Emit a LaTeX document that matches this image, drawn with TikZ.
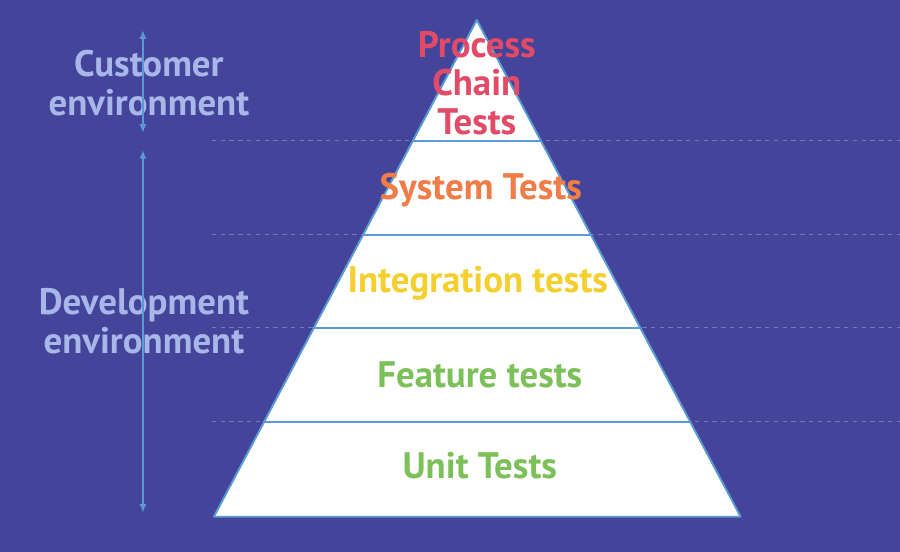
\documentclass[tikz,border=0pt]{standalone}
\usepackage{fontspec}
\setmainfont{PT Sans}
\usetikzlibrary{calc,arrows.meta}
\definecolor{bgblue}{HTML}{43449A}
\definecolor{edgeblue}{HTML}{5B9BD5}
\definecolor{dashblue}{HTML}{7078C0}
\definecolor{envblue}{HTML}{A8B6E8}
\definecolor{chainred}{HTML}{E14B68}
\definecolor{sysorange}{HTML}{F07C48}
\definecolor{intyellow}{HTML}{F4CF2E}
\definecolor{featgreen}{HTML}{7CC05A}
\begin{document}
\begin{tikzpicture}[x=0.02cm, y=-0.02cm,
	every node/.style={font=\fontsize{21}{22}\selectfont\bfseries, align=center}]
	\fill[bgblue] (0,0) rectangle (900,552);
	% level guides
	\foreach \y in {141,235,328,422}
		\draw[dashblue, dashed, dash pattern=on 2.5pt off 2.5pt, line width=0.5pt] (212,\y) -- (900,\y);
	% pyramid
	\coordinate (apex) at (477,20);
	\coordinate (bl) at (214,517);
	\coordinate (br) at (741,517);
	\filldraw[fill=white, draw=edgeblue, line width=1.1pt, line join=round] (apex) -- (br) -- (bl) -- cycle;
	\foreach \y in {141,235,328,422} {
		\pgfmathsetmacro{\t}{(\y-20)/497}
		\draw[edgeblue, line width=1.1pt] ($(apex)!\t!(bl)$) -- ($(apex)!\t!(br)$);
	}
	\node[text=chainred] (chain) at (477,83) {Process\\Chain\\Tests};
	\node[text=sysorange] (system) at (481,190) {System Tests};
	\node[text=intyellow] (integration) at (478,283) {Integration tests};
	\node[text=featgreen] (feature) at (480,375) {Feature tests};
	\node[text=featgreen] (unit) at (480,466) {Unit Tests};
	% environments
	\node[text=envblue] (customer) at (149,83) {Customer\\environment};
	\node[text=envblue] (development) at (144,321) {Development\\environment};
	\coordinate (custtop) at (143,30);
	\coordinate (custbot) at (143,133);
	\coordinate (devtop) at (143,150);
	\coordinate (devbot) at (143,513);
	\draw[edgeblue, line width=1pt, {Latex[length=5pt,width=4pt]}-{Latex[length=5pt,width=4pt]}] (custtop) -- (custbot);
	\draw[edgeblue, line width=1pt, {Latex[length=5pt,width=4pt]}-{Latex[length=5pt,width=4pt]}] (devtop) -- (devbot);
\end{tikzpicture}
\end{document}
